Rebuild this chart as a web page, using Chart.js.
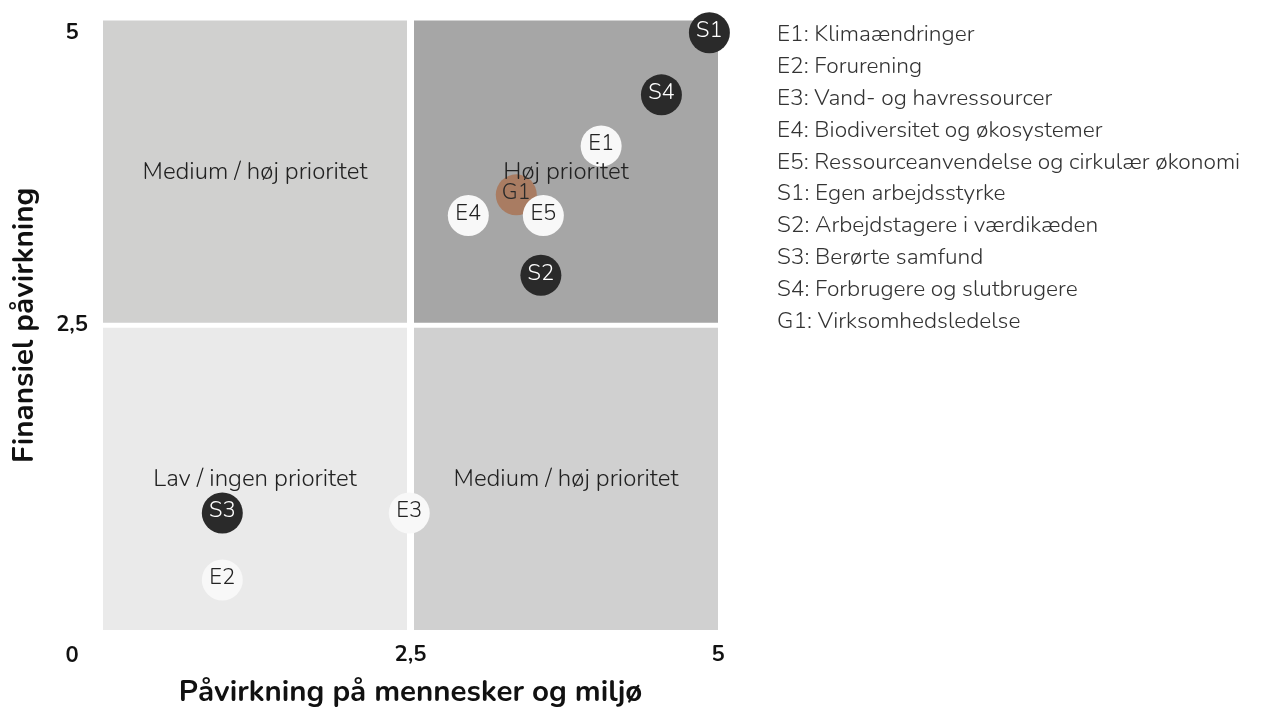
<!DOCTYPE html>
<html>
<head>
<meta charset="utf-8">
<script src="https://cdn.jsdelivr.net/npm/chart.js@4.4.1/dist/chart.umd.min.js"></script>
<style>
  html, body { margin: 0; padding: 0; background: #fff; }
  #wrap { width: 1281px; height: 709px; position: relative; }
</style>
</head>
<body>
<div id="wrap"><canvas id="myChart"></canvas></div>
<script>
// topics and where they sit (impact on people/environment, financial impact)
const codes = ["E1", "E2", "E3", "E4", "E5", "S1", "S2", "S3", "S4", "G1"];
const names = [
  "Klimaændringer",
  "Forurening",
  "Vand- og havressourcer",
  "Biodiversitet og økosystemer",
  "Ressourceanvendelse og cirkulær økonomi",
  "Egen arbejdsstyrke",
  "Arbejdstagere i værdikæden",
  "Berørte samfund",
  "Forbrugere og slutbrugere",
  "Virksomhedsledelse",
];
const impactX = [4.05, 0.97, 2.49, 2.97, 3.58, 4.93, 3.56, 0.97, 4.54, 3.36];
const financialY = [3.97, 0.41, 0.96, 3.40, 3.40, 4.90, 2.91, 0.96, 4.39, 3.57];

// quadrants
const quadrantLabels = ["Medium / høj prioritet", "Høj prioritet", "Lav / ingen prioritet", "Medium / høj prioritet"];
const quadrantX = [[0, 2.5], [2.5, 5], [0, 2.5], [2.5, 5]];
const quadrantY = [[2.5, 5], [2.5, 5], [0, 2.5], [0, 2.5]];
const quadrantColors = ["#d0d0cf", "#a6a6a6", "#eaeaea", "#d0d0d0"];

// tick labels
const tickValues = [0, 2.5, 5];
const tickLabels = ["0", "2,5", "5"];

const groupColors = { E: "#f8f8f8", S: "#2a2a2a", G: "#a97c62" };
const groupText = { E: "#222222", S: "#ffffff", G: "#2a2a2a" };
const groupOrder = { E: 1, S: 2, G: 3 };

const FONT = "Nunito, Lato, 'Open Sans', sans-serif";

function makeDataset(group) {
  const pts = [];
  const lbl = [];
  codes.forEach(function (c, i) {
    if (c[0] === group) {
      pts.push({ x: impactX[i], y: financialY[i] });
      lbl.push(c);
    }
  });
  return {
    label: group,
    data: pts,
    codes: lbl,
    backgroundColor: groupColors[group],
    borderWidth: 0,
    pointRadius: 20.5,
    pointHoverRadius: 20.5,
    order: groupOrder[group],
    clip: false,
  };
}

function tickText(value) {
  const i = tickValues.indexOf(value);
  return i >= 0 ? tickLabels[i] : "";
}

// pixel box of quadrant i, with a white gap along the 2,5 lines
function quadrantBox(chart, i) {
  const xs = chart.scales.x;
  const ys = chart.scales.y;
  const gx = 3.5, gy = 2.5;
  let x0 = xs.getPixelForValue(quadrantX[i][0]);
  let x1 = xs.getPixelForValue(quadrantX[i][1]);
  let y0 = ys.getPixelForValue(quadrantY[i][1]);
  let y1 = ys.getPixelForValue(quadrantY[i][0]);
  if (quadrantX[i][0] > xs.min) x0 += gx;
  if (quadrantX[i][1] < xs.max) x1 -= gx;
  if (quadrantY[i][1] < ys.max) y0 += gy;
  if (quadrantY[i][0] > ys.min) y1 -= gy;
  return { x0: x0, x1: x1, y0: y0, y1: y1 };
}

const quadrantPlugin = {
  id: "quadrants",
  beforeDatasetsDraw: function (chart) {
    const ctx = chart.ctx;
    ctx.save();
    for (let i = 0; i < quadrantLabels.length; i++) {
      const b = quadrantBox(chart, i);
      ctx.fillStyle = quadrantColors[i];
      ctx.fillRect(b.x0, b.y0, b.x1 - b.x0, b.y1 - b.y0);
    }
    ctx.restore();
  },
  afterDatasetsDraw: function (chart) {
    const ctx = chart.ctx;
    ctx.save();
    ctx.font = "300 24px " + FONT;
    ctx.fillStyle = "#222";
    ctx.textAlign = "center";
    ctx.textBaseline = "middle";
    for (let i = 0; i < quadrantLabels.length; i++) {
      const b = quadrantBox(chart, i);
      ctx.fillText(quadrantLabels[i], (b.x0 + b.x1) / 2, (b.y0 + b.y1) / 2 + 1.5);
    }
    ctx.restore();
  },
};

// code inside each circle, drawn right after its own dataset
const pointLabelPlugin = {
  id: "pointLabels",
  afterDatasetDraw: function (chart, args) {
    const ds = chart.data.datasets[args.index];
    const ctx = chart.ctx;
    ctx.save();
    ctx.font = "300 22px " + FONT;
    ctx.fillStyle = groupText[ds.label];
    ctx.textAlign = "center";
    ctx.textBaseline = "middle";
    args.meta.data.forEach(function (pt, i) {
      ctx.fillText(ds.codes[i], pt.x, pt.y - 1);
    });
    ctx.restore();
  },
};

// text legend on the right
const legendPlugin = {
  id: "textLegend",
  afterDraw: function (chart) {
    const ctx = chart.ctx;
    ctx.save();
    ctx.font = "300 22.7px " + FONT;
    ctx.fillStyle = "#333";
    ctx.textAlign = "left";
    ctx.textBaseline = "middle";
    for (let i = 0; i < codes.length; i++) {
      ctx.fillText(codes[i] + ": " + names[i], 777, 35.5 + i * 31.9);
    }
    ctx.restore();
  },
};

const config = {
  type: "scatter",
  data: {
    datasets: [makeDataset("E"), makeDataset("S"), makeDataset("G")],
  },
  options: {
    responsive: true,
    maintainAspectRatio: false,
    animation: false,
    layout: {
      padding: { left: 0, right: 563, top: 17, bottom: 0 },
    },
    plugins: {
      legend: { display: false },
      tooltip: { enabled: false },
    },
    scales: {
      x: {
        type: "linear",
        min: 0,
        max: 5,
        grid: { display: false, drawTicks: false },
        border: { display: false },
        afterFit: function (scale) {
          scale.height = 79;
          scale.paddingLeft = 0;
          scale.paddingRight = 0;
        },
        afterBuildTicks: function (scale) {
          scale.ticks = tickValues.map(function (v) { return { value: v }; });
        },
        ticks: {
          padding: 12,
          color: "#111",
          font: { family: FONT, size: 22, weight: "bold" },
          maxRotation: 0,
          // the shared 0 sits under the y axis
          callback: function (v) { return v === 0 ? "" : tickText(v); },
        },
        title: {
          display: true,
          text: "Påvirkning på mennesker og miljø",
          color: "#111",
          font: { family: FONT, size: 29.5, weight: "bold" },
          padding: { top: 0, bottom: -3 },
        },
      },
      y: {
        type: "linear",
        min: 0,
        max: 5,
        grid: { display: false, drawTicks: false },
        border: { display: false },
        afterFit: function (scale) {
          scale.width = 103;
          scale.paddingTop = 0;
          scale.paddingBottom = 0;
        },
        afterBuildTicks: function (scale) {
          scale.ticks = tickValues.map(function (v) { return { value: v }; });
        },
        ticks: {
          padding: 15,
          crossAlign: "center",
          color: "#111",
          font: { family: FONT, size: 22, weight: "bold" },
          callback: function (v) {
            if (v === 5) return ["", tickText(v)];
            if (v === 0) return ["", "", tickText(v)];
            return tickText(v);
          },
        },
        title: {
          display: true,
          text: "Finansiel påvirkning",
          color: "#111",
          font: { family: FONT, size: 29.5, weight: "bold" },
          padding: { top: 8, bottom: 0 },
        },
      },
    },
  },
  plugins: [quadrantPlugin, pointLabelPlugin, legendPlugin],
};

const myChart = new Chart(document.getElementById("myChart"), config);
</script>
</body>
</html>
